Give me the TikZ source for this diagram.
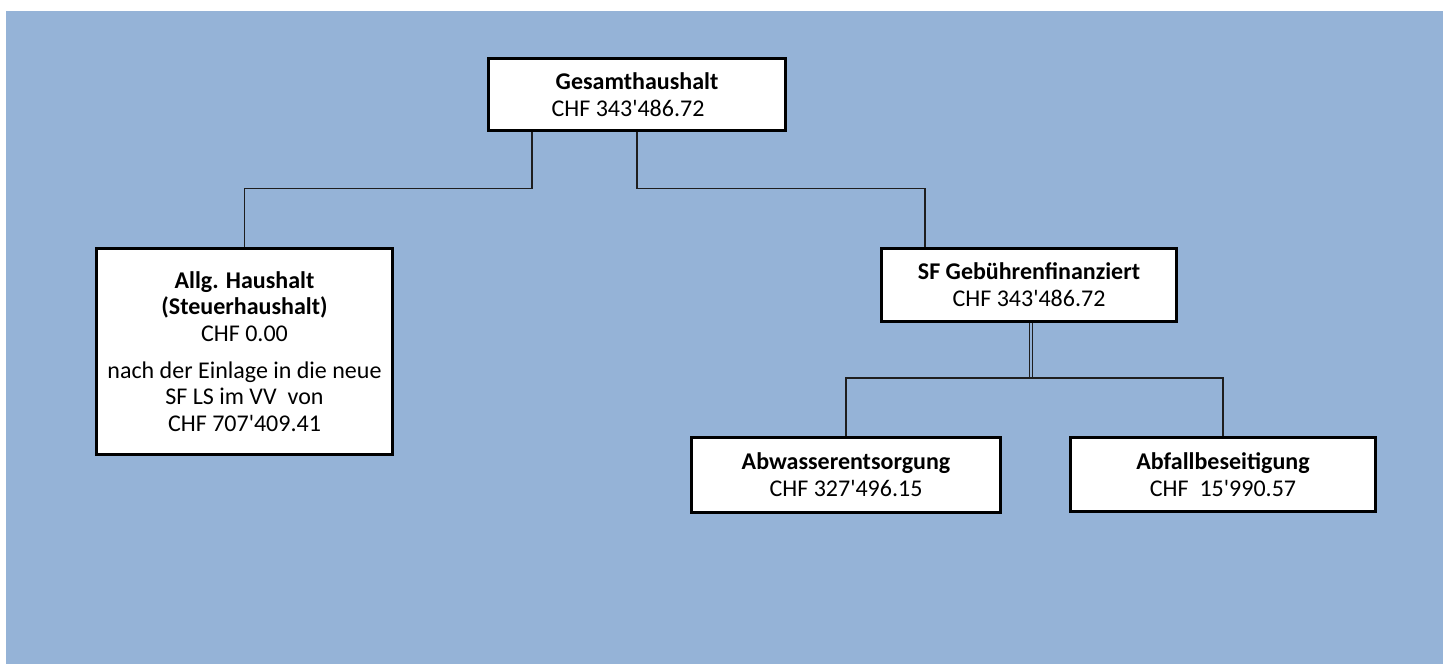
\documentclass[tikz,border=0pt]{standalone}
\usepackage{fontspec}
\setmainfont{Carlito}[Ligatures=TeXOff]
\usetikzlibrary{positioning}
\definecolor{bgblue}{HTML}{95B3D7}
\definecolor{linegray}{HTML}{1E1E1E}
\tikzset{
  box/.style={draw=black, line width=3pt, fill=white, inner sep=0pt, align=center,
    font=\fontsize{24}{26.7}\selectfont},
  conn/.style={draw=linegray, line width=1.2pt},
  dconn/.style={draw=linegray, line width=0.9pt, double=bgblue, double distance=1.6pt}
}
\begin{document}
\begin{tikzpicture}[x=1pt,y=-1pt]
\useasboundingbox (0,0) rectangle (1450,664);
\fill[bgblue] (6,11) rectangle (1443,664);

\node[box, minimum width=297pt, minimum height=72pt] (g) at (637,94.5)
  {\textbf{Gesamthaushalt}\\CHF 343'486.72\hspace*{18pt}};
\node[box, minimum width=296pt, minimum height=206pt] (a) at (244.5,351.5)
  {\textbf{Allg. Haushalt}\\\textbf{(Steuerhaushalt)}\\CHF 0.00\\[10pt]nach der Einlage in die neue\\SF LS im VV\ \ von\\CHF 707'409.41};
\node[box, minimum width=295pt, minimum height=73pt] (sf) at (1029,285)
  {\textbf{SF Gebührenfinanziert}\\CHF 343'486.72};
\node[box, minimum width=309pt, minimum height=75pt] (ab) at (846,475)
  {\textbf{Abwasserentsorgung}\\CHF 327'496.15};
\node[box, minimum width=305pt, minimum height=74pt] (af) at (1223,474.5)
  {\textbf{Abfallbeseitigung}\\CHF\ \ 15'990.57};

\coordinate (gl) at ([xshift=-105pt]g.south);
\coordinate (sfin) at ([xshift=-104pt]sf.north);
\coordinate (sfout) at ([xshift=2pt]sf.south);
\coordinate (bus) at (1031,378);

\draw[conn] (gl) -- ++(0,56.5) -| (a.north);
\draw[conn] (g.south) -- ++(0,56.5) -| (sfin);
\draw[dconn] (sfout) -- (bus);
\draw[conn] (ab.north) -- (ab.north |- bus) -- (af.north |- bus) -- (af.north);
\end{tikzpicture}
\end{document}
